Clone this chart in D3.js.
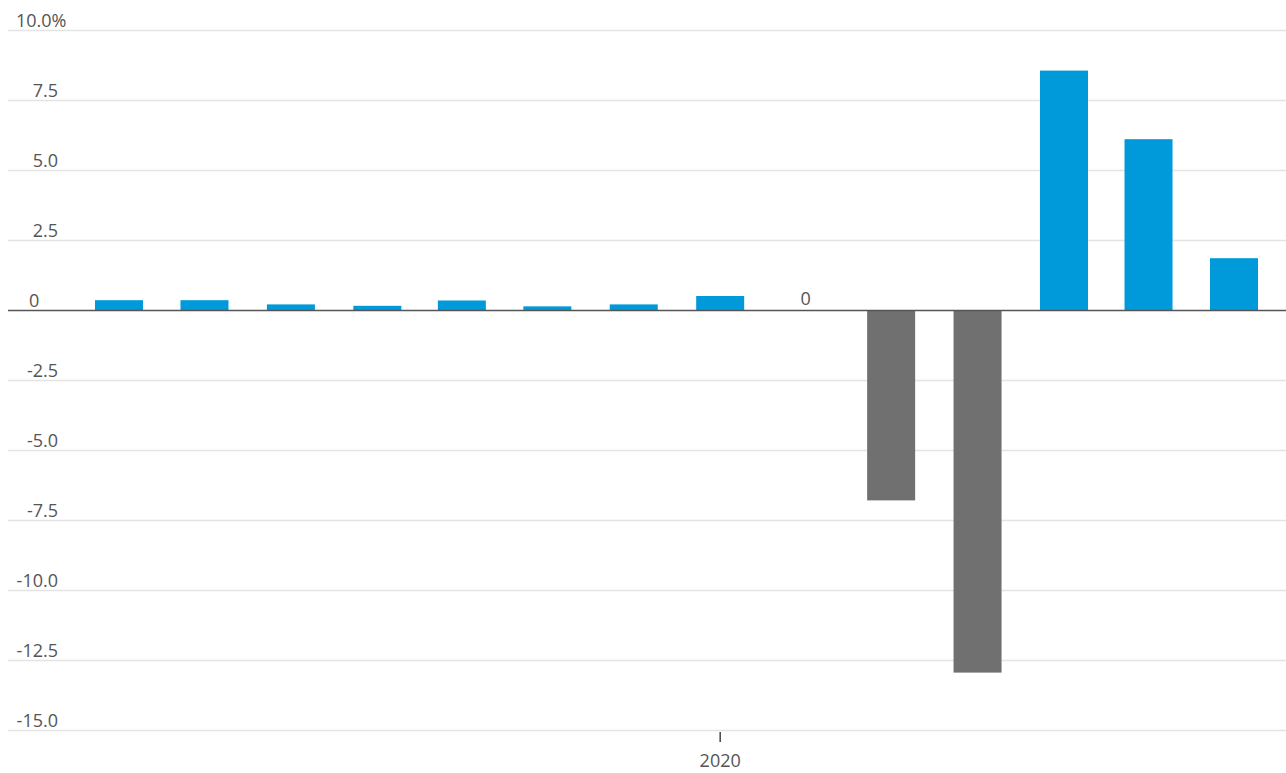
<!DOCTYPE html>
<meta charset="utf-8">
<style>
  body {
    margin: 0;
    background: #fff;
    font-family: "Open Sans", sans-serif;
  }
  svg { display: block; }
  .tick-label { fill: #555; font-size: 18px; }
</style>
<body>
  <svg id="chart" width="1286" height="773"></svg>
  <script src="https://d3js.org/d3.v7.min.js"></script>
  <script>
    // quarterly change, %
    const quarters = [
      "2018-04-01", "2018-07-01", "2018-10-01", "2019-01-01", "2019-04-01",
      "2019-07-01", "2019-10-01", "2020-01-01", "2020-04-01", "2020-07-01",
      "2020-10-01", "2021-01-01", "2021-04-01", "2021-07-01"
    ];
    const values = [0.35, 0.35, 0.2, 0.15, 0.34, 0.13, 0.2, 0.5, 0, -6.8, -12.95, 8.55, 6.1, 1.85];
    const yTicks = [10, 7.5, 5, 2.5, 0, -2.5, -5, -7.5, -10, -12.5, -15];
    const xTicks = ["2020-01-01"];

    const data = quarters.map((q, i) => ({ date: new Date(q + "T00:00:00Z"), value: values[i] }));

    const svg = d3.select("#chart");
    const width = 1286;
    const left = 8;

    const x = d3.scaleUtc()
      .domain([new Date("2018-04-01T00:00:00Z"), new Date("2021-07-01T00:00:00Z")])
      .range([119, 1234]);
    const y = d3.scaleLinear().domain([-15, 10]).range([730, 30]);
    const barW = 48;

    // grid
    svg.append("g")
      .selectAll("line")
      .data(yTicks.filter(d => d !== 0))
      .join("line")
      .attr("x1", left).attr("x2", width)
      .attr("y1", d => y(d) + 0.5).attr("y2", d => y(d) + 0.5)
      .attr("stroke", "#e4e4e4")
      .attr("stroke-width", 1.5);

    // y labels
    const fmt = d => d === 0 ? "0" : (d === 10 ? "10.0%" : d3.format(".1f")(d).replace("−", "-"));
    svg.append("g")
      .selectAll("text")
      .data(yTicks)
      .join("text")
      .attr("class", "tick-label")
      .attr("x", d => d === 0 ? 29 : (d === 10 ? 16 : 58))
      .attr("y", d => y(d) - 3)
      .attr("text-anchor", d => (d === 0 || d === 10) ? "start" : "end")
      .text(fmt);

    // bars
    svg.append("g")
      .selectAll("rect")
      .data(data.filter(d => d.value !== 0))
      .join("rect")
      .attr("x", d => x(d.date) - barW / 2)
      .attr("width", barW)
      .attr("y", d => y(Math.max(0, d.value)))
      .attr("height", d => Math.abs(y(d.value) - y(0)))
      .attr("fill", d => d.value < 0 ? "#707070" : "#0099da");

    // zero-value labels
    svg.append("g")
      .selectAll("text")
      .data(data.filter(d => d.value === 0))
      .join("text")
      .attr("class", "tick-label")
      .attr("x", d => x(d.date))
      .attr("y", y(0) - 5)
      .attr("text-anchor", "middle")
      .text("0");

    // zero line
    svg.append("line")
      .attr("x1", left).attr("x2", width)
      .attr("y1", y(0) + 0.5).attr("y2", y(0) + 0.5)
      .attr("stroke", "#555")
      .attr("stroke-width", 1.5);

    // x axis
    const xt = svg.append("g")
      .selectAll("g")
      .data(xTicks.map(d => new Date(d + "T00:00:00Z")))
      .join("g")
      .attr("transform", d => `translate(${x(d)},0)`);
    xt.append("line")
      .attr("y1", y(-15) + 2).attr("y2", y(-15) + 12)
      .attr("stroke", "#444").attr("stroke-width", 1.5);
    xt.append("text")
      .attr("class", "tick-label")
      .attr("y", 767)
      .attr("text-anchor", "middle")
      .text(d => d3.utcFormat("%Y")(d));
  </script>
</body>
